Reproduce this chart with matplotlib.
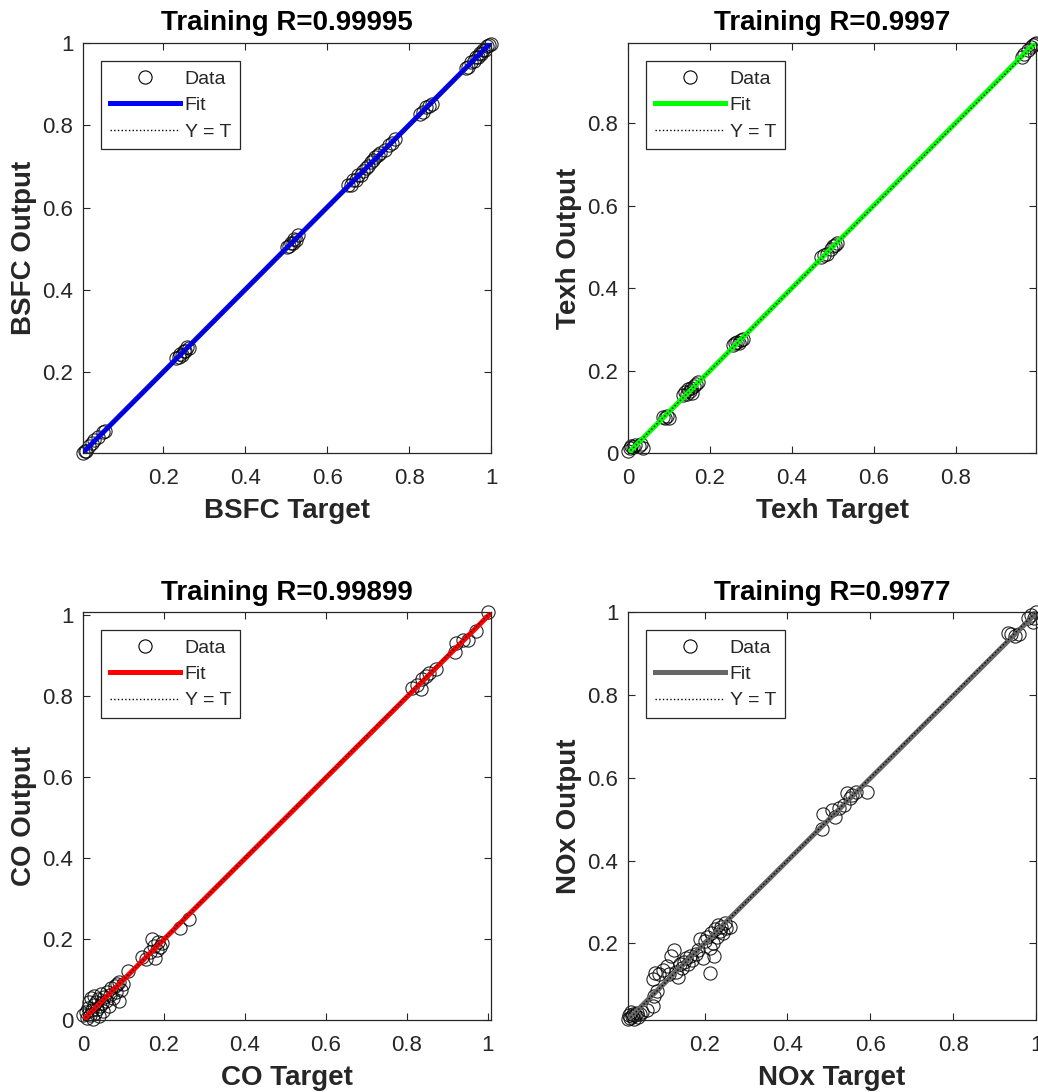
import numpy as np
import matplotlib
matplotlib.use("Agg")
import matplotlib.pyplot as plt
from matplotlib.ticker import MultipleLocator, FuncFormatter
from matplotlib.lines import Line2D

plt.rcParams['font.family'] = ['Liberation Sans', 'DejaVu Sans']

# BSFC (training)
bsfc_target = [0.005, 0.008, 0.012, 0.018, 0.025, 0.032, 0.040, 0.052, 0.058,
               0.232, 0.238, 0.242, 0.246, 0.250, 0.254, 0.258, 0.262,
               0.503, 0.508, 0.512, 0.516, 0.520, 0.525, 0.530,
               0.652, 0.658, 0.664, 0.670, 0.676, 0.682, 0.688, 0.694, 0.700, 0.706,
               0.712, 0.718, 0.724, 0.730, 0.742, 0.750, 0.758, 0.765,
               0.826, 0.834, 0.842, 0.848, 0.855,
               0.938, 0.944, 0.952, 0.958, 0.964, 0.968, 0.972, 0.976, 0.980, 0.985, 0.990, 0.995, 1.000]
bsfc_output = [0.004, 0.009, 0.010, 0.021, 0.028, 0.036, 0.043, 0.055, 0.057,
               0.235, 0.236, 0.245, 0.243, 0.252, 0.251, 0.261, 0.258,
               0.505, 0.506, 0.515, 0.514, 0.523, 0.522, 0.534,
               0.654, 0.656, 0.667, 0.668, 0.679, 0.680, 0.690, 0.697, 0.702, 0.712,
               0.715, 0.722, 0.728, 0.733, 0.741, 0.752, 0.756, 0.766,
               0.828, 0.832, 0.845, 0.846, 0.853,
               0.940, 0.942, 0.955, 0.957, 0.967, 0.966, 0.975, 0.974, 0.983, 0.984, 0.992, 0.994, 0.998]

# Texh (training)
texh_target = [0.000, 0.004, 0.008, 0.012, 0.018, 0.028, 0.032, 0.036,
               0.085, 0.090, 0.095, 0.100,
               0.135, 0.140, 0.143, 0.146, 0.150, 0.153, 0.156, 0.160, 0.165, 0.170,
               0.255, 0.260, 0.265, 0.270, 0.275, 0.280,
               0.470, 0.478, 0.485, 0.495, 0.500, 0.505, 0.510,
               0.960, 0.965, 0.975, 0.982, 0.988, 0.992, 0.995]
texh_output = [0.006, 0.012, 0.018, 0.014, 0.020, 0.016, 0.022, 0.012,
               0.088, 0.086, 0.090, 0.084,
               0.140, 0.148, 0.142, 0.155, 0.150, 0.158, 0.145, 0.162, 0.168, 0.172,
               0.262, 0.266, 0.270, 0.268, 0.274, 0.276,
               0.476, 0.480, 0.482, 0.496, 0.502, 0.505, 0.510,
               0.962, 0.968, 0.978, 0.985, 0.990, 0.993, 0.995]

# CO (training)
co_target = [0.000, 0.008, 0.010, 0.012, 0.015, 0.018, 0.020, 0.022, 0.024, 0.026, 0.028, 0.030,
             0.032, 0.035, 0.038, 0.040, 0.042, 0.045, 0.048, 0.050, 0.053, 0.056, 0.060, 0.063,
             0.066, 0.070, 0.074, 0.078, 0.082, 0.085, 0.088, 0.090, 0.094, 0.098, 0.110,
             0.145, 0.155, 0.165, 0.170, 0.175, 0.178, 0.182, 0.186, 0.190, 0.196,
             0.240, 0.262,
             0.814, 0.824, 0.835, 0.838, 0.848, 0.856, 0.872,
             0.918, 0.922, 0.938, 0.950, 0.972, 1.000]
co_output = [0.012, 0.020, 0.004, 0.030, 0.045, 0.012, 0.055, 0.025, 0.002, 0.038, 0.060, 0.018,
             0.045, 0.028, 0.052, 0.010, 0.035, 0.065, 0.042, 0.022, 0.058, 0.048, 0.070, 0.035,
             0.062, 0.078, 0.055, 0.085, 0.068, 0.090, 0.048, 0.095, 0.075, 0.088, 0.120,
             0.155, 0.150, 0.168, 0.200, 0.182, 0.152, 0.172, 0.192, 0.180, 0.190,
             0.228, 0.250,
             0.820, 0.828, 0.818, 0.843, 0.850, 0.858, 0.866,
             0.908, 0.932, 0.940, 0.938, 0.962, 1.008]

# NOx (training)
nox_target = [0.015, 0.018, 0.020, 0.022, 0.025, 0.028, 0.030, 0.033, 0.036, 0.040, 0.045, 0.050,
              0.060, 0.075, 0.078, 0.085,
              0.075, 0.080, 0.090, 0.100, 0.110, 0.115, 0.120, 0.125, 0.130, 0.135, 0.140, 0.145,
              0.150, 0.155, 0.160, 0.165, 0.170, 0.178, 0.185, 0.190, 0.195, 0.200, 0.205, 0.212,
              0.212, 0.215, 0.220, 0.222, 0.225, 0.230, 0.232, 0.236, 0.240, 0.244, 0.248, 0.252, 0.262,
              0.483, 0.485, 0.507, 0.515, 0.524, 0.537, 0.544, 0.552, 0.556, 0.566, 0.592,
              0.932, 0.940, 0.950, 0.958, 0.980, 0.988, 0.992, 0.995, 1.000]
nox_output = [0.018, 0.028, 0.020, 0.035, 0.024, 0.030, 0.018, 0.026, 0.032, 0.022, 0.030, 0.035,
              0.040, 0.050, 0.072, 0.085,
              0.115, 0.128, 0.125, 0.135, 0.145, 0.125, 0.170, 0.185, 0.130, 0.120, 0.150, 0.140,
              0.155, 0.165, 0.150, 0.170, 0.160, 0.175, 0.185, 0.210, 0.165, 0.205, 0.215, 0.128,
              0.190, 0.225, 0.200, 0.170, 0.235, 0.215, 0.245, 0.230, 0.240, 0.225, 0.248, 0.238, 0.240,
              0.477, 0.512, 0.522, 0.504, 0.527, 0.534, 0.562, 0.552, 0.558, 0.565, 0.566,
              0.950, 0.946, 0.943, 0.948, 0.985, 0.992, 0.976, 0.985, 1.000]

panels = [
    ("Training R=0.99995", "BSFC", bsfc_target, bsfc_output, (0, 0, 1)),
    ("Training R=0.9997", "Texh", texh_target, texh_output, (0, 1, 0)),
    ("Training R=0.99899", "CO", co_target, co_output, (1, 0, 0)),
    ("Training R=0.9977", "NOx", nox_target, nox_output, (0.4, 0.4, 0.4)),
]

W, H = 1038, 1092
fig = plt.figure(figsize=(W / 100, H / 100), dpi=100)

# axes boxes in pixels: left, top, width, height
boxes = [(83, 43, 408, 410), (628, 43, 408, 410), (83, 612, 408, 408), (628, 612, 408, 408)]
axcol = '#262626'

for (title, name, t, y, col), (l, tp, w, h) in zip(panels, boxes):
    ax = fig.add_axes([l / W, 1 - (tp + h) / H, w / W, h / H])
    t = np.array(t)
    y = np.array(y)
    lo = min(t.min(), y.min())
    hi = max(t.max(), y.max())
    m, b = np.polyfit(t, y, 1)
    lim = np.array([lo, hi])

    ax.plot(t, y, 'o', ms=9.5, mfc='none', mec='black', mew=0.8, alpha=0.85, clip_on=False, zorder=2)
    ax.plot(lim, lim * m + b, '-', color=col, lw=3.6, zorder=3)
    ax.plot(lim, lim, ':', color='black', lw=1.0, zorder=4)

    ax.set_xlim(lo, hi)
    ax.set_ylim(lo, hi)
    ax.xaxis.set_major_locator(MultipleLocator(0.2))
    ax.yaxis.set_major_locator(MultipleLocator(0.2))
    fmt = FuncFormatter(lambda v, p: '%g' % round(v, 2))
    ax.xaxis.set_major_formatter(fmt)
    ax.yaxis.set_major_formatter(fmt)
    ax.tick_params(direction='in', length=5, width=0.8, top=True, right=True,
                   labelsize=16, colors=axcol)
    ax.tick_params(axis='x', pad=11)
    ax.tick_params(axis='y', pad=7)
    for s in ax.spines.values():
        s.set_color(axcol)
        s.set_linewidth(0.9)

    ax.set_title(title, fontsize=20, fontweight='bold', pad=9)
    ax.set_xlabel(name + " Target", fontsize=20, fontweight='bold', color=axcol, labelpad=6)
    ax.set_ylabel(name + " Output", fontsize=20, fontweight='bold', color=axcol, labelpad=4)

    handles = [
        Line2D([], [], ls='none', marker='o', ms=9.5, mfc='none', mec='black', mew=0.8),
        Line2D([], [], color=col, lw=3.6),
        Line2D([], [], color='black', ls=':', lw=1.0),
    ]
    leg = ax.legend(handles, ["Data", "Fit", "Y = T"], loc='upper left',
                    bbox_to_anchor=(0.044, 0.955), borderaxespad=0, fontsize=14,
                    handlelength=3.6, handletextpad=0.25, labelspacing=0.45,
                    borderpad=0.45, fancybox=False, framealpha=1)
    leg.get_frame().set_edgecolor(axcol)
    leg.get_frame().set_linewidth(0.9)
    for txt in leg.get_texts():
        txt.set_color(axcol)

fig.savefig("out.png", dpi=100)
